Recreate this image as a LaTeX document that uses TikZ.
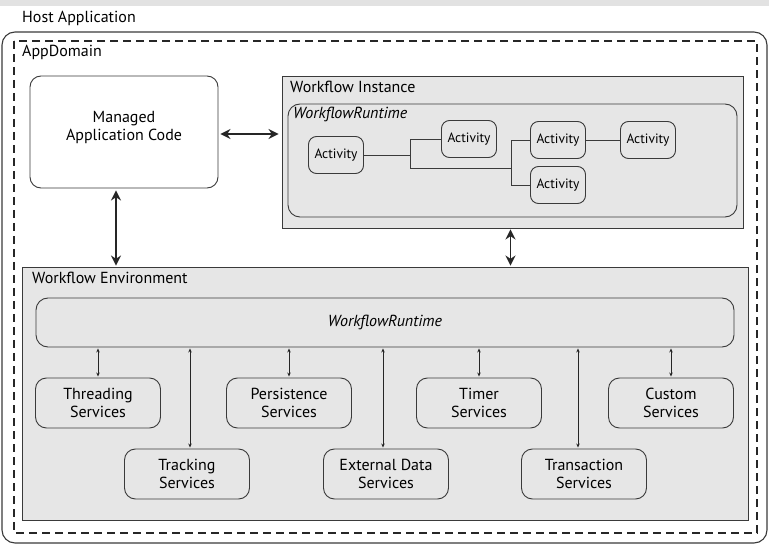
\documentclass[tikz,border=0pt]{standalone}
\usepackage{fontspec}
\setmainfont{PT Sans}
\usetikzlibrary{arrows.meta, positioning, calc}
\definecolor{panelgray}{HTML}{E6E6E6}
\definecolor{bandgray}{HTML}{E2E2E2}
\definecolor{edgegray}{HTML}{3A3A3A}

\begin{document}
\begin{tikzpicture}[
		x=1pt, y=-1pt,
		panel/.style={draw=edgegray, fill=panelgray, line width=0.9pt, inner sep=0pt},
		roundbox/.style={draw=edgegray, rounded corners=9pt, line width=0.9pt, inner sep=0pt},
		activity/.style={roundbox, rounded corners=8pt, minimum width=55pt, minimum height=37pt, font=\fontsize{13.5}{15}\selectfont},
		service/.style={roundbox, rounded corners=11pt, minimum width=125pt, minimum height=50pt, align=center, font=\fontsize{16}{18}\selectfont},
		heading/.style={anchor=north west, inner sep=0pt, font=\fontsize{16}{18}\selectfont},
		bigarrow/.style={{Stealth[length=10pt,width=10pt]}-{Stealth[length=10pt,width=10pt]}, line width=1.7pt, draw=black!85},
		smallarrow/.style={{Stealth[length=4pt,width=3.5pt]}-{Stealth[length=4pt,width=3.5pt]}, line width=0.7pt, draw=black!85},
	]
		\useasboundingbox (0,0) rectangle (769,548);
		\fill[bandgray] (0,0) rectangle (769,6);

		%Containers
		\draw[edgegray, line width=1.1pt, rounded corners=13pt] (2,32) rectangle (767,543);
		\node (hostlabel) [heading] at (22,11) {Host Application};
		\draw[black!85, line width=1.1pt, dash pattern=on 8pt off 5pt] (14,41) rectangle (757,533);
		\node (domainlabel) [heading] at (22,45) {AppDomain};

		%Managed code
		\node (managed) [roundbox, rounded corners=11pt, fill=white, minimum width=188pt, minimum height=112pt] at (124,132) {};
		\node (managedtext) [align=center, font=\fontsize{16}{18}\selectfont] at ($(managed.center)+(0,-4)$) {Managed\\Application Code};

		%Workflow instance
		\node (instance) [panel, minimum width=461pt, minimum height=152pt] at (512.5,152) {};
		\node (instancelabel) [heading] at (290,81) {Workflow Instance};
		\node (instruntime) [roundbox, rounded corners=12pt, minimum width=449pt, minimum height=113pt] at (512.5,160.5) {};
		\node (instruntimelabel) [heading, font=\fontsize{16}{18}\selectfont\itshape] at (293,107) {WorkflowRuntime};

		\node (act1) [activity] at (336,155) {Activity};
		\node (act2) [activity] at (469,139) {Activity};
		\node (act3) [activity] at (558,140) {Activity};
		\node (act4) [activity] at (648,140) {Activity};
		\node (act5) [activity] at (558,185) {Activity};

		\coordinate (forkA) at (410,168);
		\coordinate (forkB) at (511,168);
		\draw[edgegray, line width=0.9pt] (act2.west) -| (forkA) -- (forkB);
		\draw[edgegray, line width=0.9pt] (act1.east) -- (act1.east -| forkA);
		\draw[edgegray, line width=0.9pt] (act3.west) -| (forkB |- act5.west) -- (act5.west);
		\draw[edgegray, line width=0.9pt] (act3) -- (act4);

		%Workflow environment
		\node (env) [panel, minimum width=726pt, minimum height=253pt] at (385,393.5) {};
		\node (envlabel) [heading] at (32,272) {Workflow Environment};
		\node (runtime) [roundbox, rounded corners=12pt, minimum width=698pt, minimum height=49pt, font=\fontsize{16}{18}\selectfont\itshape] at (385,322.5) {WorkflowRuntime};

		\node (threading) [service] at (98,403) {Threading\\Services};
		\node (persistence) [service] at (289,403) {Persistence\\Services};
		\node (timer) [service] at (479,403) {Timer\\Services};
		\node (custom) [service] at (671,403) {Custom\\Services};
		\node (tracking) [service] at (187,474) {Tracking\\Services};
		\node (external) [service] at (386,474) {External Data\\Services};
		\node (transaction) [service] at (584,474) {Transaction\\Services};

		%Lines
		\draw[bigarrow, shorten <=2pt, shorten >=3pt] (managed.east |- 0,134) -- (instance.west |- 0,134);
		\draw[bigarrow, shorten <=2pt, shorten >=1pt] ([xshift=-8pt]managed.south) -- ([xshift=-8pt]managed.south |- env.north);
		\draw[bigarrow, shorten <=1pt, shorten >=1pt] ([xshift=-2pt]instance.south) -- ([xshift=-2pt]instance.south |- env.north);

		\foreach \svc in {threading, persistence, timer, custom}
			\draw[smallarrow, shorten <=1pt, shorten >=1pt] (\svc.north) -- (\svc.north |- runtime.south);
		\foreach \svc/\dx in {tracking/3, external/-3, transaction/-6}
			\draw[smallarrow, shorten <=1pt, shorten >=1pt] ([xshift=\dx pt]\svc.north) -- ([xshift=\dx pt]\svc.north |- runtime.south);
	\end{tikzpicture}
\end{document}
